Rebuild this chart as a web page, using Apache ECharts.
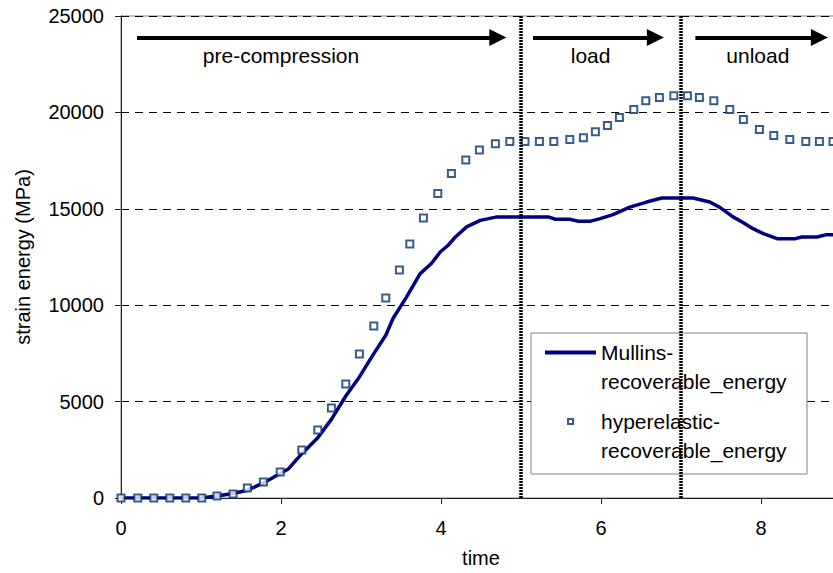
<!DOCTYPE html>
<html>
<head>
<meta charset="utf-8">
<script src="https://cdn.jsdelivr.net/npm/echarts@6/dist/echarts.min.js"></script>
<style>
  html, body { margin: 0; padding: 0; background: #fff; }
  #chart { width: 833px; height: 573px; }
</style>
</head>
<body>
<div id="chart"></div>
<script>
// values: [time, strain energy (MPa)]
const mullinsEnergy = [
  [0, 0], [1.0, 0], [1.2, 100], [1.4, 230], [1.58, 400], [1.78, 780], [1.99, 1270],
  [2.09, 1500], [2.26, 2300], [2.46, 3130], [2.63, 4080], [2.81, 5290], [2.98, 6280],
  [3.16, 7490], [3.31, 8440], [3.4, 9310], [3.57, 10430], [3.74, 11640], [3.88, 12160],
  [3.99, 12760], [4.09, 13110], [4.18, 13540], [4.32, 14060], [4.49, 14400], [4.7, 14580],
  [4.99, 14580], [5.34, 14580], [5.43, 14460], [5.61, 14460], [5.72, 14350], [5.86, 14350],
  [5.99, 14490], [6.15, 14700], [6.36, 15090], [6.57, 15350], [6.76, 15560], [7.15, 15560],
  [7.36, 15350], [7.49, 15060], [7.65, 14580], [7.78, 14280], [7.9, 13970], [8.03, 13710],
  [8.2, 13450], [8.43, 13450], [8.51, 13540], [8.7, 13540], [8.82, 13660], [8.99, 13660]
];

const hyperelasticEnergy = [
  [0, 0], [0.21, 0], [0.41, 0], [0.61, 0], [0.81, 0], [1.01, 0], [1.2, 100], [1.4, 210],
  [1.58, 520], [1.78, 830], [1.99, 1350], [2.26, 2490], [2.46, 3530], [2.63, 4670],
  [2.81, 5910], [2.98, 7470], [3.16, 8920], [3.31, 10370], [3.48, 11830], [3.61, 13170],
  [3.78, 14520], [3.96, 15790], [4.13, 16830], [4.31, 17530], [4.48, 18050], [4.68, 18380],
  [4.86, 18490], [5.05, 18490], [5.23, 18490], [5.41, 18490], [5.61, 18590], [5.78, 18690],
  [5.93, 19000], [6.08, 19320], [6.23, 19730], [6.41, 20150], [6.56, 20610], [6.73, 20770],
  [6.91, 20870], [7.08, 20870], [7.23, 20770], [7.41, 20610], [7.61, 20150], [7.78, 19630],
  [7.98, 19110], [8.16, 18800], [8.36, 18590], [8.56, 18490], [8.73, 18490], [8.9, 18490]
];

// phase boundaries and arrows (time units)
const phaseBounds = [5, 7];
const phaseNames = ['pre-compression', 'load', 'unload'];
const phaseLabelX = [2.0, 5.87, 7.96];
const arrowStart = [0.2, 5.15, 7.18];
const arrowEnd = [4.71, 6.68, 8.73];
const arrowY = 23880;
const labelY = 22960;

const seriesNames = ['Mullins-recoverable_energy', 'hyperelastic-recoverable_energy'];

const FONT = '"Liberation Sans", Arial, sans-serif';
const LINE_COLOR = '#000080';
const MARK_COLOR = '#08346E';

let chart = echarts.init(document.getElementById('chart'), null, { renderer: 'svg' });

let arrows = arrowStart.map(function (s, i) {
  return [{ coord: [s, arrowY] }, { coord: [arrowEnd[i], arrowY] }];
});
let phaseLabels = phaseNames.map(function (n, i) {
  return { name: n, coord: [phaseLabelX[i], labelY] };
});

chart.setOption({
  animation: false,
  textStyle: { fontFamily: FONT },
  // the plot runs to time 9, a few pixels past the right edge of the picture
  grid: {
    left: 121, top: 16, bottom: 75, right: -8,
    outerBoundsMode: 'none', containLabel: false,
    show: true, borderColor: '#808080', borderWidth: 1, backgroundColor: 'transparent'
  },
  xAxis: {
    type: 'value', min: 0, max: 9, interval: 2,
    name: 'time', nameLocation: 'middle', nameGap: 50,
    nameTextStyle: { fontSize: 20, color: '#000', fontFamily: FONT },
    axisLine: { lineStyle: { color: '#222', width: 1 } },
    axisTick: { show: true, inside: false, length: 6, lineStyle: { color: '#222' } },
    axisLabel: { fontSize: 20, color: '#000', margin: 20, fontFamily: FONT,
      showMaxLabel: false,
      formatter: function (v) { return String(v); } },
    splitLine: { show: false }
  },
  yAxis: {
    type: 'value', min: 0, max: 25000, interval: 5000,
    name: 'strain energy (MPa)', nameLocation: 'middle', nameGap: 88, nameRotate: 90,
    nameTextStyle: { fontSize: 20, color: '#000', fontFamily: FONT },
    axisLine: { show: true, lineStyle: { color: '#222', width: 1 } },
    axisTick: { show: true, inside: false, length: 6, lineStyle: { color: '#222' } },
    axisLabel: { fontSize: 20, color: '#000', margin: 17, fontFamily: FONT,
      formatter: function (v) { return String(v); } },
    splitLine: { show: true, lineStyle: { color: '#000', width: 1, type: [8, 6] } }
  },
  legend: {
    orient: 'vertical',
    left: 545, top: 309,
    padding: 0,
    itemGap: -18,
    itemWidth: 51, itemHeight: 7,
    symbolKeepAspect: true,
    data: [
      { name: seriesNames[0], icon: 'path://M0,0 L51,0 L51,4 L0,4 Z',
        itemStyle: { color: LINE_COLOR, borderWidth: 0 } },
      { name: seriesNames[1], icon: 'path://M0,0 L7,0 L7,7 L0,7 Z M2,2 L2,5 L5,5 L5,2 Z',
        itemStyle: { color: MARK_COLOR, borderWidth: 0 } }
    ],
    // blank first line keeps the icon level with the first text line
    formatter: function (name) { return ' \n' + name.replace('-', '-\n'); },
    textStyle: { fontSize: 21, lineHeight: 29, color: '#000', fontFamily: FONT },
    z: 5
  },
  graphic: [{
    type: 'rect', z: 1,
    shape: { x: 531, y: 333, width: 276, height: 141 },
    style: { fill: '#fff', stroke: '#808080', lineWidth: 1 }
  }],
  series: [
    {
      name: seriesNames[0],
      type: 'line',
      data: mullinsEnergy,
      symbol: 'none',
      lineStyle: { color: LINE_COLOR, width: 3.5 },
      itemStyle: { color: LINE_COLOR },
      z: 3,
      markLine: {
        silent: true, symbol: 'none', z: 6,
        label: { show: false },
        lineStyle: { color: '#000', width: 3.5, type: [2, 1] },
        data: phaseBounds.map(function (b) { return { xAxis: b }; })
      }
    },
    {
      name: seriesNames[1],
      type: 'scatter',
      data: hyperelasticEnergy,
      symbol: 'emptyRect',
      symbolSize: 7,
      itemStyle: { color: MARK_COLOR, borderColor: MARK_COLOR, borderWidth: 2 },
      z: 4,
      markLine: {
        silent: true, symbol: ['none', 'triangle'], symbolSize: 17,
        label: { show: false },
        lineStyle: { color: '#000', width: 4, type: 'solid' },
        itemStyle: { color: '#000' },
        data: arrows
      },
      markPoint: {
        silent: true, symbol: 'circle', symbolSize: 0,
        itemStyle: { color: 'transparent' },
        label: { show: true, position: 'inside', formatter: '{b}', fontSize: 21, color: '#000', fontFamily: FONT },
        data: phaseLabels
      }
    }
  ]
});
</script>
</body>
</html>
